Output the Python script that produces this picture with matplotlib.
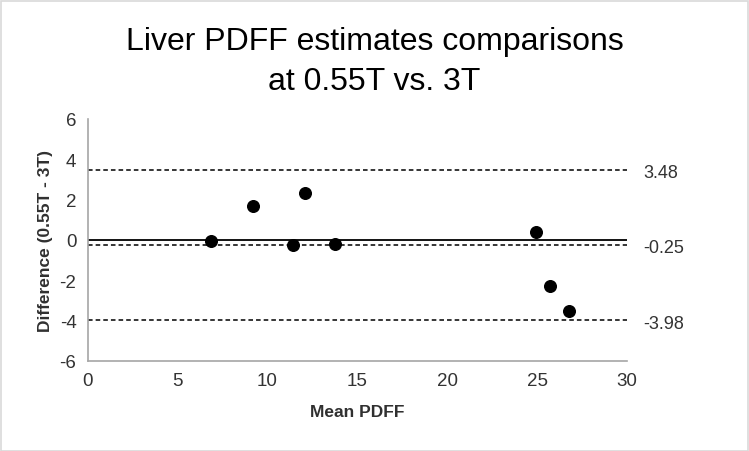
import matplotlib
matplotlib.use("Agg")
import matplotlib.pyplot as plt
from matplotlib.patches import Rectangle

plt.rcParams['font.family'] = ['Liberation Sans', 'DejaVu Sans']
plt.rcParams['axes.unicode_minus'] = False

mean_pdff = [6.87, 9.19, 11.45, 12.11, 13.75, 24.94, 25.72, 26.76]
difference = [-0.05, 1.68, -0.25, 2.35, -0.2, 0.41, -2.29, -3.5]
bias = -0.25
upper_loa = 3.48
lower_loa = -3.98
x_ticks = [0, 5, 10, 15, 20, 25, 30]
y_ticks = [-6, -4, -2, 0, 2, 4, 6]

W, H = 749, 452
fig = plt.figure(figsize=(W / 100, H / 100), dpi=100)
fig.patches.append(Rectangle((0.5 / W, 0.5 / H), 1 - 2 / W, 1 - 2 / H, transform=fig.transFigure,
                             fill=False, edgecolor='#d9d9d9', linewidth=1.2))

left, right, top, bottom = 87.5, 627, 120, 362
ax = fig.add_axes([left / W, 1 - bottom / H, (right - left) / W, (bottom - top) / H])

ax.axhline(0, color='black', linewidth=1.3, zorder=2)
for v in (upper_loa, bias, lower_loa):
    ax.axhline(v, color='black', linewidth=1.1, linestyle=(0, (3, 2)), zorder=2)

ax.scatter(mean_pdff, difference, s=70, color='black', zorder=3)

ax.set_xlim(0, 30)
ax.set_ylim(-6, 6)
ax.set_xticks(x_ticks)
ax.set_yticks(y_ticks)
ax.tick_params(length=0, labelsize=13.5, labelcolor='#333333', pad=8)
for s in ('top', 'right'):
    ax.spines[s].set_visible(False)
for s in ('left', 'bottom'):
    ax.spines[s].set_color('#a6a6a6')
    ax.spines[s].set_linewidth(1.2)

ax.set_xlabel('Mean PDFF', fontsize=12.5, fontweight='bold', color='#303030', labelpad=11)
ax.set_ylabel('Difference (0.55T - 3T)', fontsize=12.5, fontweight='bold', color='#303030', labelpad=5)

for v in (upper_loa, bias, lower_loa):
    ax.annotate(f'{v:.2f}', xy=(1, v), xycoords=('axes fraction', 'data'),
                xytext=(12, -2), textcoords='offset points', fontsize=13,
                color='#333333', ha='left', va='center')

fig.text(0.5, 1 - 62 / H, 'Liver PDFF estimates comparisons\nat 0.55T vs. 3T', ha='center', va='center',
         fontsize=23, color='black', linespacing=1.45)

fig.savefig('out.png', dpi=100)
